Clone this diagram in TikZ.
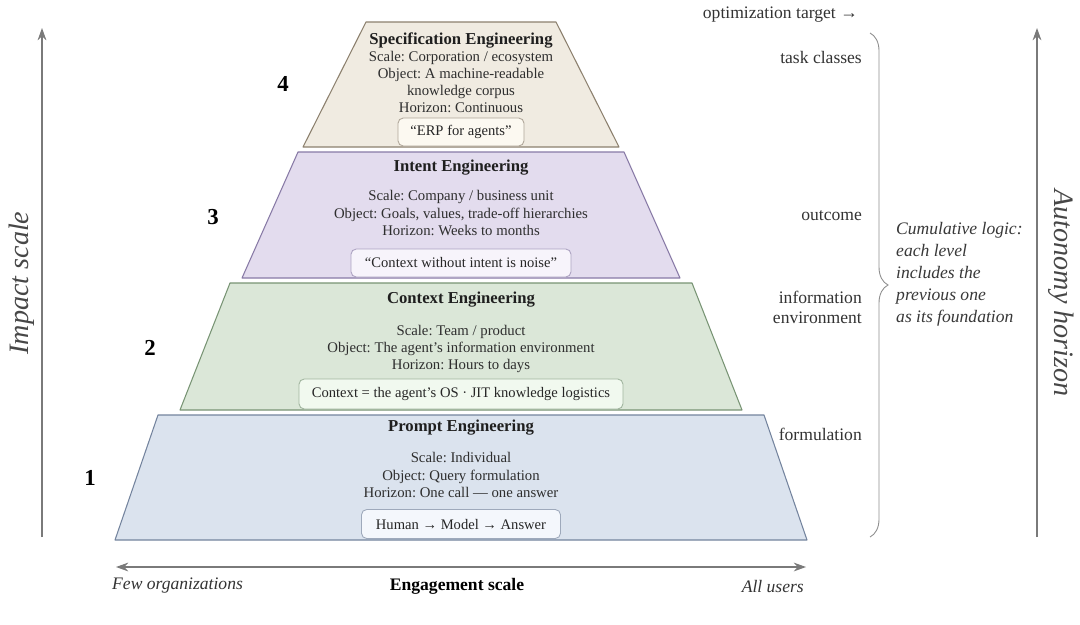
\documentclass[tikz,border=0pt]{standalone}
\usepackage{fontspec}
\setmainfont{Liberation Serif}
\usepackage{tikz}
\usetikzlibrary{arrows.meta,positioning,decorations.pathreplacing}
\frenchspacing
\definecolor{specFill}{RGB}{240,235,225}
\definecolor{specLine}{RGB}{140,128,110}
\definecolor{specTag}{RGB}{252,249,241}
\definecolor{intFill}{RGB}{227,220,238}
\definecolor{intLine}{RGB}{136,122,166}
\definecolor{intTag}{RGB}{247,244,251}
\definecolor{ctxFill}{RGB}{219,231,216}
\definecolor{ctxLine}{RGB}{120,148,116}
\definecolor{ctxTag}{RGB}{241,249,239}
\definecolor{prmFill}{RGB}{219,227,238}
\definecolor{prmLine}{RGB}{116,132,158}
\definecolor{prmTag}{RGB}{244,247,252}
\definecolor{axisGray}{RGB}{122,122,122}

\begin{document}
\begin{tikzpicture}[x=0.2mm,y=-0.2mm,
  lvl/.style={line width=0.6pt,line join=round},
  ttl/.style={font=\fontsize{9.5}{11}\selectfont\bfseries,text=black!88},
  body/.style={font=\fontsize{8.4}{9.7}\selectfont,align=center,text=black!82},
  tagbox/.style={rectangle,rounded corners=3pt,font=\fontsize{8.3}{9.5}\selectfont,
                 text=black!85,line width=0.5pt,inner sep=2pt},
  num/.style={font=\fontsize{13}{15}\selectfont\bfseries},
  side/.style={font=\fontsize{10}{11.5}\selectfont,align=right,text=black!80},
  axisline/.style={draw=axisGray,line width=0.7pt},
  axlbl/.style={font=\fontsize{16}{18}\selectfont\itshape,text=black!72}]

  \fill[white] (0,0) rectangle (1080,624);
  \useasboundingbox (0,0) rectangle (1080,624);

  % Pyramide
  \draw[lvl,fill=prmFill,draw=prmLine] (115,540) -- (158,415) -- (764,415) -- (807,540) -- cycle;
  \draw[lvl,fill=ctxFill,draw=ctxLine] (180,410) -- (230,283) -- (692,283) -- (742,410) -- cycle;
  \draw[lvl,fill=intFill,draw=intLine] (242,278) -- (298,152) -- (624,152) -- (680,278) -- cycle;
  \draw[lvl,fill=specFill,draw=specLine] (303,147) -- (366,22) -- (556,22) -- (619,147) -- cycle;

  % Niveau 4
  \node[ttl] (specT) at (461,40) {Specification Engineering};
  \node[body] (specB) at (461,82) {Scale: Corporation / ecosystem\\Object: A machine-readable\\knowledge corpus\\Horizon: Continuous};
  \node[tagbox,draw=specLine!70,fill=specTag,minimum width=2.52cm,minimum height=0.56cm] (specG) at (461,132) {“ERP for agents”};

  % Niveau 3
  \node[ttl] (intT) at (461,168) {Intent Engineering};
  \node[body] (intB) at (461,213) {Scale: Company / business unit\\Object: Goals, values, trade-off hierarchies\\Horizon: Weeks to months};
  \node[tagbox,draw=intLine!70,fill=intTag,minimum width=4.4cm,minimum height=0.56cm] (intG) at (461,263) {“Context without intent is noise”};

  % Niveau 2
  \node[ttl] (ctxT) at (461,300) {Context Engineering};
  \node[body] (ctxB) at (461,349) {Scale: Team / product\\Object: The agent’s information environment\\Horizon: Hours to days};
  \node[tagbox,draw=ctxLine!70,fill=ctxTag,minimum width=6.48cm,minimum height=0.6cm] (ctxG) at (461,394) {Context = the agent’s OS · JIT knowledge logistics};

  % Niveau 1
  \node[ttl] (prmT) at (461,428) {Prompt Engineering};
  \node[body] (prmB) at (461,475) {Scale: Individual\\Object: Query formulation\\Horizon: One call — one answer};
  \node[tagbox,draw=prmLine!70,fill=prmTag,minimum width=3.98cm,minimum height=0.58cm] (prmG) at (461,524) {Human → Model → Answer};

  % Numeros
  \node[num] (n4) at (283,84)  {4};
  \node[num] (n3) at (213,217) {3};
  \node[num] (n2) at (150,348) {2};
  \node[num] (n1) at (90,478)  {1};

  % Axes
  \coordinate (impB) at (42,537);
  \coordinate (impT) at (42,28);
  \draw[axisline,-{Stealth[length=7pt,width=5pt]}] (impB) -- (impT);
  \node[axlbl,rotate=90] (imp) at (22,283) {Impact scale};

  \coordinate (autB) at (1037,537);
  \coordinate (autT) at (1037,28);
  \draw[axisline,-{Stealth[length=7pt,width=5pt]}] (autB) -- (autT);
  \node[axlbl,rotate=-90] (aut) at (1061,293) {Autonomy horizon};

  \coordinate (engL) at (116,567);
  \coordinate (engR) at (806,567);
  \draw[axisline,{Stealth[length=7pt,width=5pt]}-{Stealth[length=7pt,width=5pt]}] (engL) -- (engR);
  \node[font=\fontsize{10}{12}\selectfont\itshape,text=black!80,anchor=west] (few) at (106,586) {Few organizations};
  \node[font=\fontsize{10}{12}\selectfont\bfseries] (eng) at (457,586) {Engagement scale};
  \node[font=\fontsize{10}{12}\selectfont\itshape,text=black!80,anchor=east] (all) at (810,586) {All users};

  % Cibles
  \node[side,anchor=east] (tgt) at (864,15)  {optimization target →};
  \node[side,anchor=east] (tsk) at (868,57)  {task classes};
  \node[side,anchor=east] (out) at (868,216) {outcome};
  \node[side,anchor=east] (inf) at (868,307) {information\\environment};
  \node[side,anchor=east] (frm) at (868,434) {formulation};

  \draw[draw=axisGray!85,line width=0.5pt,decorate,decoration={brace,amplitude=0.36cm}] (870,33) -- (870,537);
  \node[font=\fontsize{10}{12.5}\selectfont\itshape,text=black!78,align=left,anchor=west] (cum) at (890,274)
    {Cumulative logic:\\each level\\includes the\\previous one\\as its foundation};
\end{tikzpicture}
\end{document}
